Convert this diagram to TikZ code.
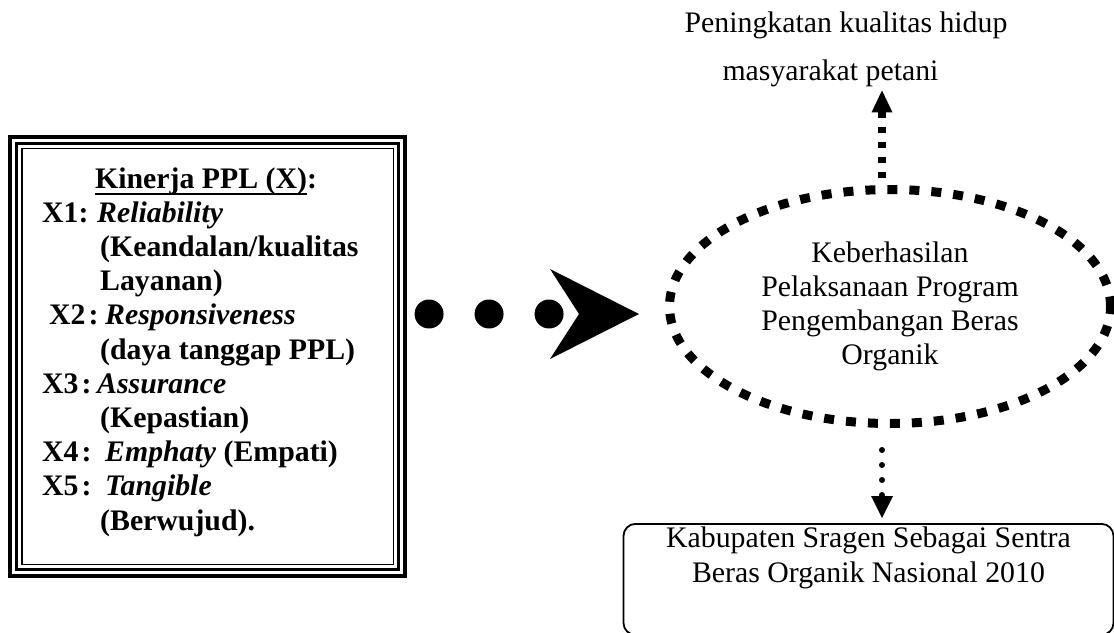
\documentclass[tikz,border=0pt]{standalone}
\usepackage{fontspec}
\setmainfont{Liberation Serif}
\usetikzlibrary{arrows.meta,shapes.geometric}
\newcommand\myul[1]{\setbox0=\hbox{#1}\rlap{\rule[-7pt]{\wd0}{2pt}}\box0}
\begin{document}
\begin{tikzpicture}[x=1pt,y=-1pt,
  txt/.style={font=\fontsize{29.8pt}{34.2pt}\selectfont, inner sep=0pt},
  frame/.style={inner sep=0pt, outer sep=0pt},
  dotconn/.style={line width=29pt, line cap=round, dash pattern=on 0pt off 60pt,
    -{Stealth[length=89pt, width=90pt, inset=29pt, line width=0pt]}},
  sqconn/.style={line width=7.5pt, dash pattern=on 6pt off 9pt, dash phase=8pt,
    -{Triangle[length=22pt, width=21pt, line width=0pt]}},
  rdconn/.style={line width=6pt, line cap=round, dash pattern=on 0pt off 15pt,
    shorten >=5pt, -{Triangle[length=22pt, width=22pt, line width=0pt]}},
  ovalbox/.style={ellipse, draw, line width=9pt, dash pattern=on 10pt off 12pt,
    minimum width=441pt, minimum height=234pt, inner sep=0pt},
  roundbox/.style={draw, line width=1.8pt, rounded corners=12pt, minimum width=490pt,
    inner sep=0pt, text height=24pt, text depth=87pt}
]
\useasboundingbox (0,0) rectangle (1114,632);

% left box with triple border
\node[frame, minimum width=398.7pt, minimum height=443pt] (box) at (207.7,356.5) {};
\draw[line width=4pt] ([shift={(2pt,-2pt)}]box.north west) rectangle ([shift={(-2pt,2pt)}]box.south east);
\draw[line width=3.3pt] ([shift={(8.3pt,-8.3pt)}]box.north west) rectangle ([shift={(-8.3pt,8.3pt)}]box.south east);
\draw[line width=1.7pt] ([shift={(13.5pt,-13.5pt)}]box.north west) rectangle ([shift={(-13.5pt,13.5pt)}]box.south east);

\node[txt, font=\fontsize{29.8pt}{34.2pt}\selectfont\bfseries, anchor=base west] (boxtext) at (42,188) {%
\begin{tabular}[t]{@{}l@{}}
\hspace*{53pt}\myul{Kinerja PPL (X)}:\\
\makebox[55pt][l]{X1:}\textit{Reliability}\\
\hspace*{58pt}(Keandalan/kualitas\\
\hspace*{58pt}Layanan)\\
\hspace*{7pt}\makebox[56pt][l]{X2\hspace{3pt}:}\textit{Responsiveness}\\
\hspace*{58pt}(daya tanggap PPL)\\
\makebox[55pt][l]{X3\hspace{3pt}:}\textit{Assurance}\\
\hspace*{58pt}(Kepastian)\\
\makebox[63pt][l]{X4\hspace{3pt}:}\textit{Emphaty} (Empati)\\
\makebox[63pt][l]{X5\hspace{3pt}:}\textit{Tangible}\\
\hspace*{58pt}(Berwujud).
\end{tabular}};

% ellipse
\node[ovalbox, txt] (ell) at (890,306.5) {%
\begin{tabular}{@{}c@{}}Keberhasilan\\Pelaksanaan Program\\Pengembangan Beras\\Organik\end{tabular}};

% top text
\node[txt, anchor=base] (goal) at (846,32) {%
\begin{tabular}[t]{@{}c@{}}Peningkatan kualitas hidup\\[13.8pt]masyarakat petani\hspace*{31pt}\end{tabular}};

% bottom rounded box
\node[roundbox, txt, anchor=north] (sentra) at (868.5,523) {%
\begin{tabular}[t]{@{}c@{}}Kabupaten Sragen Sebagai Sentra\\Beras Organik Nasional 2010\end{tabular}};

% connectors
\coordinate (mid) at (box.east |- ell.west);
\draw[dotconn] ([shift={(22pt,-7.5pt)}]mid) -- ([shift={(-26pt,-7.5pt)}]ell.west);

\coordinate (up) at ([xshift=-8pt]ell.north);
\draw[sqconn] (up) -- (up |- goal.south);

\coordinate (dn) at ([xshift=-8pt,yshift=-22pt]ell.south);
\draw[rdconn] (dn) -- (dn |- sentra.north);
\end{tikzpicture}
\end{document}
